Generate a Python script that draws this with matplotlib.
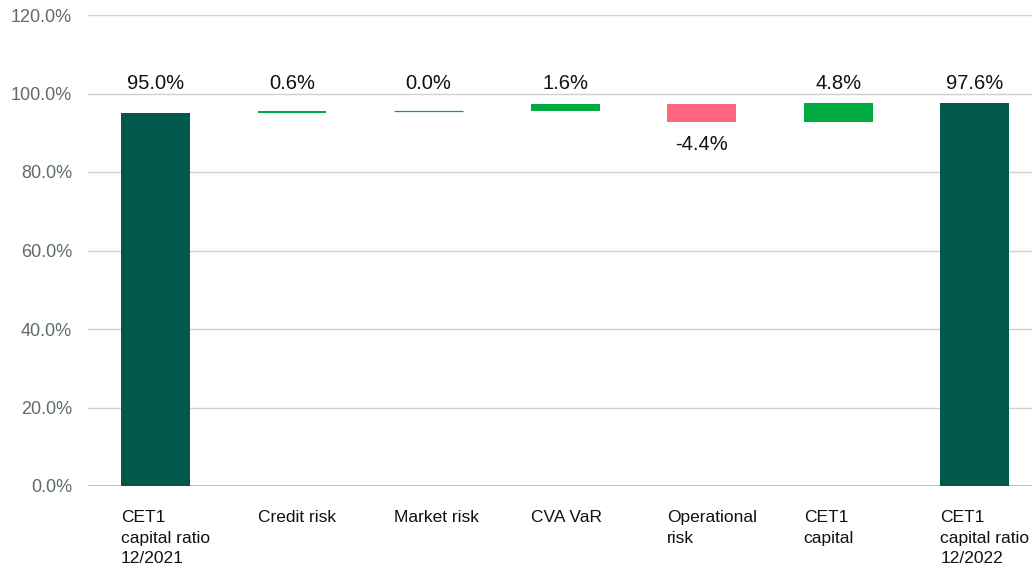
import matplotlib
matplotlib.use('Agg')
import matplotlib.pyplot as plt
import numpy as np

categories = ['CET1\ncapital ratio\n12/2021', 'Credit risk', 'Market risk', 'CVA VaR',
              'Operational\nrisk', 'CET1\ncapital', 'CET1\ncapital ratio\n12/2022']
changes = [95.0, 0.6, 0.0, 1.6, -4.4, 4.8, 97.6]
kinds = ['total', 'delta', 'delta', 'delta', 'delta', 'delta', 'total']

dark = '#00594C'
up = '#00AC42'
down = '#FF6680'

plt.rcParams['font.family'] = ['Liberation Sans', 'DejaVu Sans']

fig = plt.figure(figsize=(10.32, 5.71), dpi=100)
ax = fig.add_axes([88 / 1032, 1 - 486 / 571, 944 / 1032, 471 / 571])

x = np.arange(len(categories))
w = 0.505
running = 0.0
for i, (v, k) in enumerate(zip(changes, kinds)):
    if k == 'total':
        ax.bar(x[i], v, width=w, color=dark, zorder=3)
        running = v
        ax.text(x[i], 102.6, f'{v:.1f}%', ha='center', va='center', fontsize=14.5, color='#111111')
    else:
        base = running
        col = up if v >= 0 else down
        if v == 0:
            ax.bar(x[i], 0.0001, bottom=base, width=w, color=col, edgecolor=col, linewidth=0.9, zorder=3)
        else:
            ax.bar(x[i], v, bottom=base, width=w, color=col, zorder=3)
        running = base + v
        if v >= 0:
            ax.text(x[i], 102.6, f'{v:.1f}%', ha='center', va='center', fontsize=14.5, color='#111111')
        else:
            ax.text(x[i], 87.0, f'{v:.1f}%', ha='center', va='center', fontsize=14.5, color='#111111')

ax.set_xlim(-0.494, 6.42)
ax.set_ylim(0, 120)
ax.set_yticks(np.arange(0, 121, 20))
ax.set_yticklabels([f'{t:.1f}%' for t in np.arange(0, 121, 20)], fontsize=13, color='#5f6b6d')
ax.yaxis.grid(True, color='#d0d0d0', linewidth=1, zorder=0)
ax.set_axisbelow(True)
ax.axhline(0, color='#b5b5b5', linewidth=1.2, zorder=2)
for s in ax.spines.values():
    s.set_visible(False)
ax.tick_params(axis='y', length=0, pad=11.5)
ax.tick_params(axis='x', length=0)
ax.set_xticks([])

for i, c in enumerate(categories):
    ax.text(x[i] - w / 2, -6.2, c, ha='left', va='top', fontsize=12.5, color='#111111',
            linespacing=1.45, transform=ax.transData, clip_on=False)

fig.savefig('out.png', dpi=100)
